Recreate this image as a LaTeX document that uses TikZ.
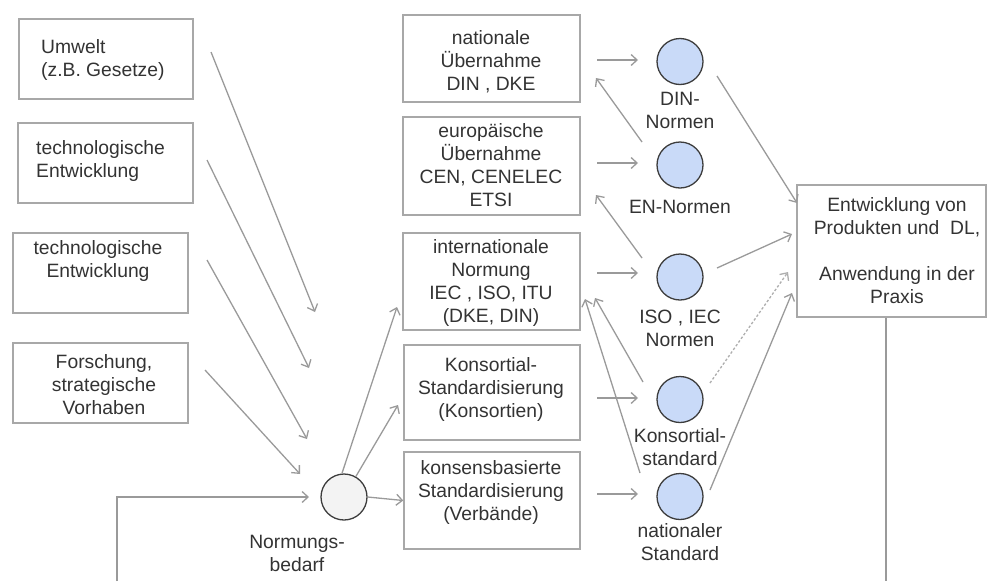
\documentclass[tikz,border=0pt]{standalone}
\usepackage{fontspec}
\setmainfont{Liberation Sans}
\usetikzlibrary{arrows.meta}
\definecolor{txtc}{HTML}{333333}
\definecolor{boxc}{HTML}{A8A8A8}
\definecolor{arrc}{HTML}{9A9A9A}
\definecolor{bluef}{HTML}{C9DAF8}
\definecolor{circd}{HTML}{3D3D3D}
\definecolor{grayf}{HTML}{F3F3F3}
\tikzset{
  boxn/.style={draw=boxc, line width=1.5pt, rectangle, inner sep=0pt},
  txt/.style={text=txtc, align=center, inner sep=0pt, font=\fontsize{19.3}{23}\selectfont},
  txtl/.style={txt, align=left, anchor=west},
  bcirc/.style={circle, draw=circd, fill=bluef, line width=1.3pt, minimum size=46pt, inner sep=0pt},
  gcirc/.style={circle, draw=circd, fill=grayf, line width=1.3pt, minimum size=46pt, inner sep=0pt},
  arr/.style={draw=arrc, line width=1.3pt, -{Straight Barb[length=6pt,width=11pt]}},
  ln/.style={draw=arrc, line width=1.3pt},
  dotarr/.style={arr, draw=arrc!80, dash pattern=on 2.5pt off 2pt}
}
\begin{document}
\begin{tikzpicture}[x=1pt,y=-1pt]
\useasboundingbox (0,0) rectangle (987,581);
% left boxes
\node[boxn, minimum width=174pt, minimum height=80pt] (umw) at (106,59) {};
\node[txtl] (umwT) at (41,60) {Umwelt\\(z.B. Gesetze)};
\node[boxn, minimum width=175pt, minimum height=80pt] (tec1) at (105.5,163) {};
\node[txtl] (tec1T) at (36,161) {technologische\\Entwicklung};
\node[boxn, minimum width=175pt, minimum height=80pt] (tec2) at (100.5,273) {};
\node[txt] (tec2T) at (98,261) {technologische\\Entwicklung};
\node[boxn, minimum width=175pt, minimum height=80pt] (for) at (100.5,383) {};
\node[txt] (forT) at (104,385) {Forschung,\\strategische\\Vorhaben};
% middle boxes
\node[boxn, minimum width=177pt, minimum height=87pt] (nat) at (491.5,58.5) {};
\node[txt] (natT) at (491,62) {nationale\\Übernahme\\DIN , DKE};
\node[boxn, minimum width=177pt, minimum height=98pt] (eu) at (491.5,166) {};
\node[txt] (euT) at (491,165) {europäische\\Übernahme\\CEN, CENELEC\\ETSI};
\node[boxn, minimum width=177pt, minimum height=97pt] (int) at (491.5,281.5) {};
\node[txt] (intT) at (491,283) {internationale\\Normung\\IEC , ISO, ITU\\(DKE, DIN)};
\node[boxn, minimum width=176pt, minimum height=95pt] (kons) at (492,392.5) {};
\node[txt] (konsT) at (491,389) {Konsortial-\\Standardisierung\\(Konsortien)};
\node[boxn, minimum width=176pt, minimum height=97pt] (kb) at (492,500.5) {};
\node[txt] (kbT) at (491,492) {konsensbasierte\\Standardisierung\\(Verbände)};
% Entwicklung box
\node[boxn, minimum width=189pt, minimum height=132pt] (ent) at (891.5,251) {};
\node[txt] (entT) at (897,251) {Entwicklung von\\Produkten und\ \ DL,\\[23pt]Anwendung in der\\Praxis};
% circles
\node[gcirc] (nb) at (344,497) {};
\node[txt] (nbT) at (297,553) {Normungs-\\bedarf};
\node[bcirc] (din) at (680,61.5) {};
\node[txt] (dinT) at (680,110) {DIN-\\Normen};
\node[bcirc] (en) at (680,165) {};
\node[txt] (enT) at (680,207) {EN-Normen};
\node[bcirc] (iso) at (680,277) {};
\node[txt] (isoT) at (680,328) {ISO , IEC\\Normen};
\node[bcirc] (ks) at (680,399.5) {};
\node[txt] (ksT) at (680,447) {Konsortial-\\standard};
\node[bcirc] (ns) at (680,496.5) {};
\node[txt] (nsT) at (680,542) {nationaler\\Standard};
% coordinates for free arrow ends
\coordinate (a1s) at (211,52);  \coordinate (a1e) at (315,312);
\coordinate (a2s) at (207,160); \coordinate (a2e) at (309,368);
\coordinate (a3s) at (207,260); \coordinate (a3e) at (307,439);
\coordinate (a4s) at (205,370); \coordinate (a4e) at (300,474);
\coordinate (fb0) at (117,581); \coordinate (fb1) at (117,497);
\coordinate (fb3) at (309,497);
\coordinate (fb2) at (886,581);
% inputs
\draw[arr] (a1s) -- (a1e);
\draw[arr] (a2s) -- (a2e);
\draw[arr] (a3s) -- (a3e);
\draw[arr] (a4s) -- (a4e);
\draw[arr] (fb0) -- (fb1) -- (fb3);
\draw[ln] (ent.south -| fb2) -- (fb2);
% out of Normungsbedarf
\draw[arr] (nb.95) -- (397,307);
\draw[arr] (nb.60) -- (398,405);
\draw[arr] (nb.east) -- (kb.west);
% boxes to circles
\draw[arr] (597,60) -- (638,60);
\draw[arr] (597,163) -- (638,163);
\draw[arr] (597,273) -- (638,273);
\draw[arr] (597,398) -- (638,398);
\draw[arr] (597,494) -- (638,494);
% back arrows
\draw[arr] (642,142) -- (596,78);
\draw[arr] (642,258) -- (596,195);
\draw[arr] (643,382) -- (595,298);
\draw[arr] (640,473) -- (585,299);
% to Entwicklung
\draw[arr] (717,76) -- (797,203);
\draw[arr] (717,268) -- (792,234);
\draw[dotarr] (710,383) -- (788,272);
\draw[arr] (710,490) -- (792,293);
\end{tikzpicture}
\end{document}
